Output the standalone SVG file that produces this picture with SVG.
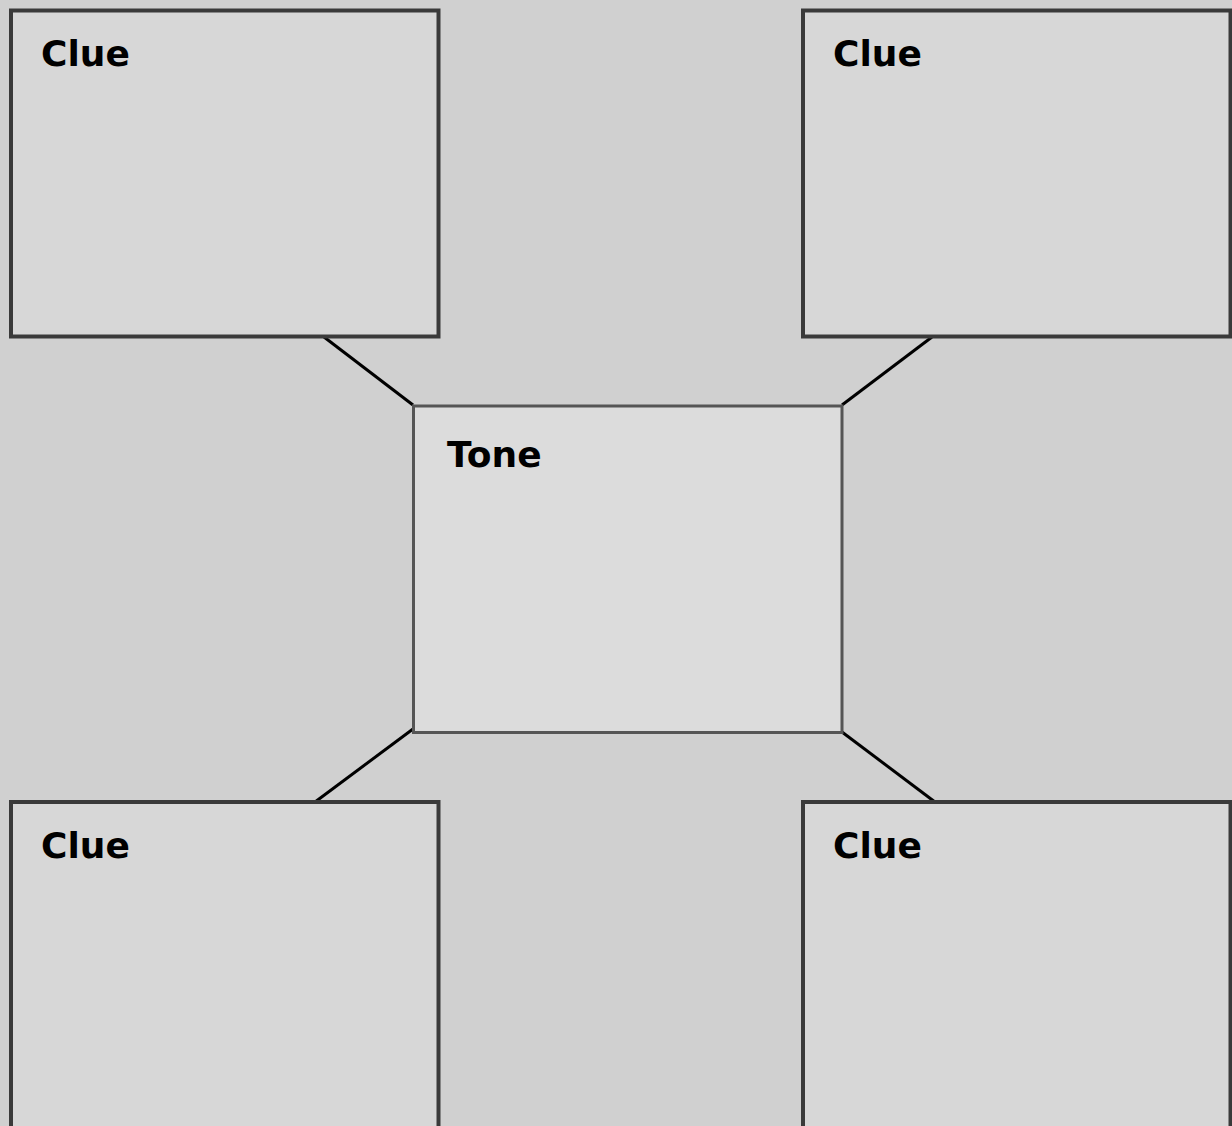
<svg xmlns="http://www.w3.org/2000/svg" width="1232" height="1126" viewBox="0 0 1232 1126">
<style>
.clue{fill:#d7d7d7;stroke:#3a3a3a;stroke-width:4}
.tone{fill:#dcdcdc;stroke:#555555;stroke-width:3}
.lbl{font-family:"DejaVu Sans",sans-serif;font-weight:bold;font-size:36px;fill:#000}
.conn{stroke:#000;stroke-width:3;fill:none}
</style>
<rect x="0" y="0" width="1232" height="1126" fill="#d0d0d0"/>
<g id="connectors">
<line class="conn" x1="324" y1="337" x2="413" y2="405"/>
<line class="conn" x1="932" y1="337" x2="842" y2="405"/>
<line class="conn" x1="413" y1="729" x2="315" y2="802"/>
<line class="conn" x1="842" y1="732" x2="935" y2="802"/>
</g>
<g id="clue-tl"><rect class="clue" x="11" y="10.5" width="427.5" height="326"/><text class="lbl" x="41" y="66">Clue</text></g>
<g id="clue-tr"><rect class="clue" x="803" y="10.5" width="427.5" height="326"/><text class="lbl" x="833" y="66">Clue</text></g>
<g id="tone"><rect class="tone" x="413.5" y="406" width="428.5" height="326.5"/><text class="lbl" x="447" y="467">Tone</text></g>
<g id="clue-bl"><rect class="clue" x="11" y="802" width="427.5" height="340"/><text class="lbl" x="41" y="858">Clue</text></g>
<g id="clue-br"><rect class="clue" x="803" y="802" width="427.5" height="340"/><text class="lbl" x="833" y="858">Clue</text></g>
</svg>
